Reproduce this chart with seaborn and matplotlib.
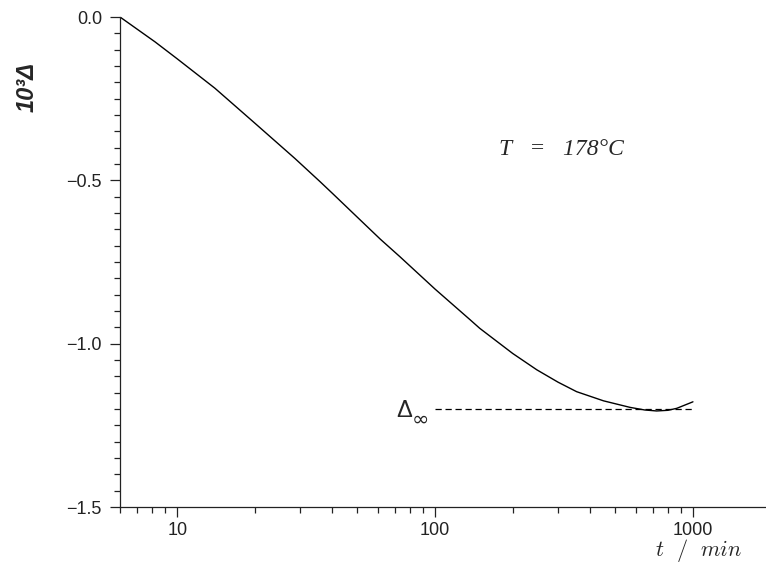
import numpy as np
import pandas as pd
import matplotlib
matplotlib.use("Agg")
import matplotlib.pyplot as plt
import matplotlib.ticker as mticker
import seaborn as sns

# data (t in min, 10^3 * Delta)
t_min = [6.0, 8.2, 10.0, 14.0, 20.0, 28.6, 35.8, 40.0, 51.2, 61.3, 73.1,
         100.0, 136.8, 149.0, 200.0, 248.0, 300.0, 354.0, 450.0, 570.0,
         650.0, 723.0, 800.0, 865.0, 1000.0]
delta = [0.0, -0.076, -0.128, -0.218, -0.325, -0.433, -0.504, -0.54, -0.621,
         -0.680, -0.734, -0.833, -0.927, -0.953, -1.03, -1.080, -1.118,
         -1.147, -1.175, -1.195, -1.203, -1.206, -1.204, -1.198, -1.178]
delta_inf = -1.20
inf_span = [100, 1000]
x_ticks = [10, 100, 1000]
y_ticks = [0.0, -0.5, -1.0, -1.5]

sns.set_style("ticks")
plt.rcParams["font.family"] = ["Liberation Sans", "DejaVu Sans"]
plt.rcParams["mathtext.fontset"] = "cm"

fig = plt.figure(figsize=(7.66, 5.64), dpi=100)
ax = fig.add_axes([120 / 766, 1 - 507 / 564, 1 - 120 / 766, (507 - 17) / 564])

df = pd.DataFrame({"t": t_min, "d": delta})
sns.lineplot(data=df, x="t", y="d", ax=ax, color="black", lw=1.0)
ax.hlines(delta_inf, inf_span[0], inf_span[1], colors="black",
          linestyles=(0, (5, 3)), lw=0.9)

ax.set_xscale("log")
ax.set_xlim(6.0, 1920)
ax.set_ylim(-1.5, 0.0)

ax.xaxis.set_major_locator(mticker.FixedLocator(x_ticks))
ax.xaxis.set_major_formatter(mticker.FixedFormatter([str(v) for v in x_ticks]))
ax.xaxis.set_minor_locator(mticker.LogLocator(base=10, subs=np.arange(2, 10)))
ax.xaxis.set_minor_formatter(mticker.NullFormatter())
ax.set_yticks(y_ticks)
ax.yaxis.set_major_formatter(mticker.FuncFormatter(lambda v, p: f"{v:.1f}".replace("-", "\u2212")))
ax.yaxis.set_minor_locator(mticker.MultipleLocator(0.05))

ax.tick_params(which="major", length=7, width=0.9, labelsize=13, colors="#222222")
ax.tick_params(axis="y", which="major", pad=6)
ax.tick_params(axis="x", which="major", pad=4)
ax.tick_params(which="minor", length=4.5, width=0.9, colors="#222222")
for s in ["left", "bottom"]:
    ax.spines[s].set_linewidth(0.9)
    ax.spines[s].set_color("#222222")
sns.despine(ax=ax)

ax.set_xlabel("")
ax.set_ylabel("")

fig.text(27 / 766, 1 - 87 / 564, "10\u00b3\u0394", rotation=90, ha="center",
         va="center", fontsize=17, fontweight="bold", fontstyle="italic")
fig.text(698 / 766, 1 - 556 / 564, r"$t\ \ /\ \ min$", ha="center",
         va="baseline", fontsize=16)
ax.text(310, -0.405, "T   =   178\u00b0C", ha="center", va="center",
        fontsize=17, fontstyle="italic", family="Liberation Serif")

# Delta_inf label, subscript drawn as its own text so it stays large
ax.annotate("\u0394", xy=(inf_span[0], delta_inf), xytext=(-16.5, -1.4),
            textcoords="offset points", ha="right", va="center", fontsize=17)
ax.annotate("\u221e", xy=(inf_span[0], delta_inf), xytext=(-4, -8),
            textcoords="offset points", ha="right", va="center", fontsize=15,
            family="DejaVu Sans")

fig.savefig("out.png", dpi=100)
